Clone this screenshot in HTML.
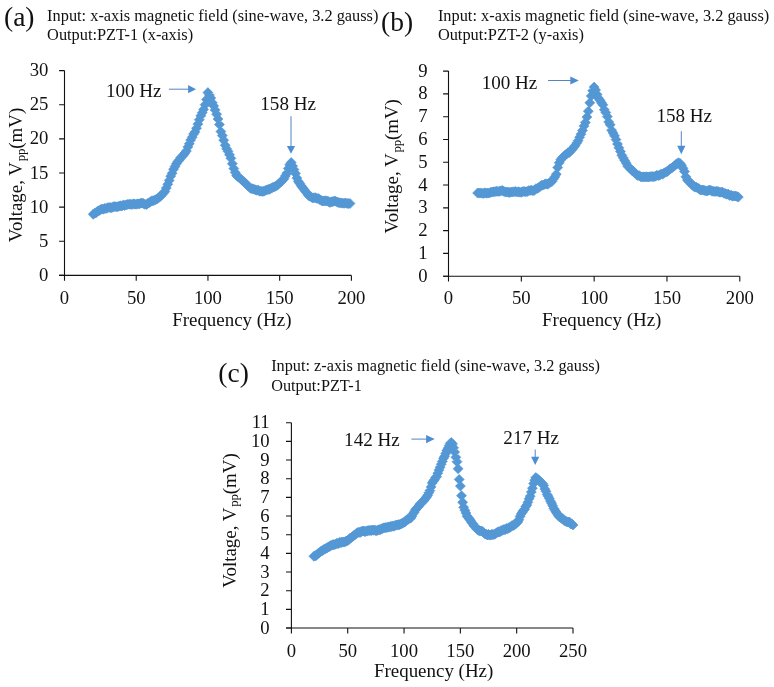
<!DOCTYPE html>
<html><head><meta charset="utf-8"><style>
html,body{margin:0;padding:0;background:#fff;}
svg{display:block;will-change:transform;}
text{font-family:'Liberation Serif', serif;fill:#111;}
*{-webkit-font-smoothing:antialiased;}
</style></head><body>
<svg width="774" height="687" viewBox="0 0 774 687">
<path d="M64.5 70.6V275.4M59.1 275.4H351.4" stroke="#111" stroke-width="1.1" fill="none"/>
<path d="M59.1 275.4H64.5M59.1 241.27H64.5M59.1 207.13H64.5M59.1 173H64.5M59.1 138.87H64.5M59.1 104.73H64.5M59.1 70.6H64.5M64.5 275.4v5.4M136.22 275.4v5.4M207.95 275.4v5.4M279.67 275.4v5.4M351.4 275.4v5.4" stroke="#111" stroke-width="1.1" fill="none"/>
<text x="48.4" y="281" text-anchor="end" font-size="18.7">0</text>
<text x="48.4" y="246.87" text-anchor="end" font-size="18.7">5</text>
<text x="48.4" y="212.73" text-anchor="end" font-size="18.7">10</text>
<text x="48.4" y="178.6" text-anchor="end" font-size="18.7">15</text>
<text x="48.4" y="144.47" text-anchor="end" font-size="18.7">20</text>
<text x="48.4" y="110.33" text-anchor="end" font-size="18.7">25</text>
<text x="48.4" y="76.2" text-anchor="end" font-size="18.7">30</text>
<text x="64.5" y="303.8" text-anchor="middle" font-size="18.7">0</text>
<text x="136.22" y="303.8" text-anchor="middle" font-size="18.7">50</text>
<text x="207.95" y="303.8" text-anchor="middle" font-size="18.7">100</text>
<text x="279.67" y="303.8" text-anchor="middle" font-size="18.7">150</text>
<text x="351.4" y="303.8" text-anchor="middle" font-size="18.7">200</text>
<text transform="translate(22 242.3) rotate(-90)" font-size="18.95">Voltage, V<tspan font-size="12.8" dx="0.7" dy="2.6">pp</tspan><tspan dx="-0.3" dy="-2.6">(mV)</tspan></text>
<text x="172.15" y="325.8" font-size="18.95">Frequency (Hz)</text>
<path d="M93.2 209.3l5.0 5.0l-5.0 5.0l-5.0-5.0zM94.6 208.2l5.0 5.0l-5.0 5.0l-5.0-5.0zM96.1 207.8l5.0 5.0l-5.0 5.0l-5.0-5.0zM97.5 206.3l5.0 5.0l-5.0 5.0l-5.0-5.0zM98.9 205.8l5.0 5.0l-5.0 5.0l-5.0-5.0zM100.4 204.7l5.0 5.0l-5.0 5.0l-5.0-5.0zM101.8 204.1l5.0 5.0l-5.0 5.0l-5.0-5.0zM103.2 204.2l5.0 5.0l-5.0 5.0l-5.0-5.0zM104.7 203.4l5.0 5.0l-5.0 5.0l-5.0-5.0zM106.1 203.5l5.0 5.0l-5.0 5.0l-5.0-5.0zM107.5 202.8l5.0 5.0l-5.0 5.0l-5.0-5.0zM109.0 202.5l5.0 5.0l-5.0 5.0l-5.0-5.0zM110.4 202.6l5.0 5.0l-5.0 5.0l-5.0-5.0zM111.8 202.7l5.0 5.0l-5.0 5.0l-5.0-5.0zM113.3 201.7l5.0 5.0l-5.0 5.0l-5.0-5.0zM114.7 201.6l5.0 5.0l-5.0 5.0l-5.0-5.0zM116.1 201.7l5.0 5.0l-5.0 5.0l-5.0-5.0zM117.6 201.8l5.0 5.0l-5.0 5.0l-5.0-5.0zM119.0 201.2l5.0 5.0l-5.0 5.0l-5.0-5.0zM120.4 200.7l5.0 5.0l-5.0 5.0l-5.0-5.0zM121.9 201.1l5.0 5.0l-5.0 5.0l-5.0-5.0zM123.3 199.9l5.0 5.0l-5.0 5.0l-5.0-5.0zM124.7 200.5l5.0 5.0l-5.0 5.0l-5.0-5.0zM126.2 199.8l5.0 5.0l-5.0 5.0l-5.0-5.0zM127.6 199.4l5.0 5.0l-5.0 5.0l-5.0-5.0zM129.1 199.2l5.0 5.0l-5.0 5.0l-5.0-5.0zM130.5 199.2l5.0 5.0l-5.0 5.0l-5.0-5.0zM131.9 199.6l5.0 5.0l-5.0 5.0l-5.0-5.0zM133.4 198.8l5.0 5.0l-5.0 5.0l-5.0-5.0zM134.8 199.2l5.0 5.0l-5.0 5.0l-5.0-5.0zM136.2 199.2l5.0 5.0l-5.0 5.0l-5.0-5.0zM137.7 198.8l5.0 5.0l-5.0 5.0l-5.0-5.0zM139.1 198.9l5.0 5.0l-5.0 5.0l-5.0-5.0zM140.5 198.3l5.0 5.0l-5.0 5.0l-5.0-5.0zM142.0 198.1l5.0 5.0l-5.0 5.0l-5.0-5.0zM143.4 198.5l5.0 5.0l-5.0 5.0l-5.0-5.0zM144.8 199.3l5.0 5.0l-5.0 5.0l-5.0-5.0zM146.3 199.6l5.0 5.0l-5.0 5.0l-5.0-5.0zM147.7 198.5l5.0 5.0l-5.0 5.0l-5.0-5.0zM149.1 197.8l5.0 5.0l-5.0 5.0l-5.0-5.0zM150.6 196.7l5.0 5.0l-5.0 5.0l-5.0-5.0zM152.0 195.7l5.0 5.0l-5.0 5.0l-5.0-5.0zM153.4 195.7l5.0 5.0l-5.0 5.0l-5.0-5.0zM154.9 195.1l5.0 5.0l-5.0 5.0l-5.0-5.0zM156.3 194.2l5.0 5.0l-5.0 5.0l-5.0-5.0zM157.7 193.6l5.0 5.0l-5.0 5.0l-5.0-5.0zM159.2 192.2l5.0 5.0l-5.0 5.0l-5.0-5.0zM160.6 191.2l5.0 5.0l-5.0 5.0l-5.0-5.0zM162.0 189.7l5.0 5.0l-5.0 5.0l-5.0-5.0zM163.5 187.9l5.0 5.0l-5.0 5.0l-5.0-5.0zM164.9 186.5l5.0 5.0l-5.0 5.0l-5.0-5.0zM166.3 183.0l5.0 5.0l-5.0 5.0l-5.0-5.0zM167.8 179.3l5.0 5.0l-5.0 5.0l-5.0-5.0zM169.2 175.4l5.0 5.0l-5.0 5.0l-5.0-5.0zM170.7 171.2l5.0 5.0l-5.0 5.0l-5.0-5.0zM172.1 168.3l5.0 5.0l-5.0 5.0l-5.0-5.0zM173.5 164.2l5.0 5.0l-5.0 5.0l-5.0-5.0zM175.0 161.6l5.0 5.0l-5.0 5.0l-5.0-5.0zM176.4 158.8l5.0 5.0l-5.0 5.0l-5.0-5.0zM177.8 156.6l5.0 5.0l-5.0 5.0l-5.0-5.0zM179.3 154.9l5.0 5.0l-5.0 5.0l-5.0-5.0zM180.7 152.7l5.0 5.0l-5.0 5.0l-5.0-5.0zM182.1 151.5l5.0 5.0l-5.0 5.0l-5.0-5.0zM183.6 149.8l5.0 5.0l-5.0 5.0l-5.0-5.0zM185.0 148.0l5.0 5.0l-5.0 5.0l-5.0-5.0zM186.4 146.0l5.0 5.0l-5.0 5.0l-5.0-5.0zM187.9 141.9l5.0 5.0l-5.0 5.0l-5.0-5.0zM189.3 138.7l5.0 5.0l-5.0 5.0l-5.0-5.0zM190.7 135.1l5.0 5.0l-5.0 5.0l-5.0-5.0zM192.2 132.3l5.0 5.0l-5.0 5.0l-5.0-5.0zM193.6 129.1l5.0 5.0l-5.0 5.0l-5.0-5.0zM195.0 127.1l5.0 5.0l-5.0 5.0l-5.0-5.0zM196.5 123.2l5.0 5.0l-5.0 5.0l-5.0-5.0zM197.9 119.1l5.0 5.0l-5.0 5.0l-5.0-5.0zM199.3 114.7l5.0 5.0l-5.0 5.0l-5.0-5.0zM200.8 110.8l5.0 5.0l-5.0 5.0l-5.0-5.0zM202.2 107.7l5.0 5.0l-5.0 5.0l-5.0-5.0zM203.6 104.5l5.0 5.0l-5.0 5.0l-5.0-5.0zM205.1 99.7l5.0 5.0l-5.0 5.0l-5.0-5.0zM206.5 94.6l5.0 5.0l-5.0 5.0l-5.0-5.0zM207.9 87.6l5.0 5.0l-5.0 5.0l-5.0-5.0zM209.4 90.0l5.0 5.0l-5.0 5.0l-5.0-5.0zM210.8 93.1l5.0 5.0l-5.0 5.0l-5.0-5.0zM212.3 97.7l5.0 5.0l-5.0 5.0l-5.0-5.0zM213.7 100.9l5.0 5.0l-5.0 5.0l-5.0-5.0zM215.1 104.9l5.0 5.0l-5.0 5.0l-5.0-5.0zM216.6 109.2l5.0 5.0l-5.0 5.0l-5.0-5.0zM218.0 114.0l5.0 5.0l-5.0 5.0l-5.0-5.0zM219.4 119.6l5.0 5.0l-5.0 5.0l-5.0-5.0zM220.9 126.6l5.0 5.0l-5.0 5.0l-5.0-5.0zM222.3 130.6l5.0 5.0l-5.0 5.0l-5.0-5.0zM223.7 135.2l5.0 5.0l-5.0 5.0l-5.0-5.0zM225.2 140.3l5.0 5.0l-5.0 5.0l-5.0-5.0zM226.6 143.8l5.0 5.0l-5.0 5.0l-5.0-5.0zM228.0 146.3l5.0 5.0l-5.0 5.0l-5.0-5.0zM229.5 149.7l5.0 5.0l-5.0 5.0l-5.0-5.0zM230.9 153.3l5.0 5.0l-5.0 5.0l-5.0-5.0zM232.3 158.7l5.0 5.0l-5.0 5.0l-5.0-5.0zM233.8 163.5l5.0 5.0l-5.0 5.0l-5.0-5.0zM235.2 167.4l5.0 5.0l-5.0 5.0l-5.0-5.0zM236.6 170.7l5.0 5.0l-5.0 5.0l-5.0-5.0zM238.1 171.8l5.0 5.0l-5.0 5.0l-5.0-5.0zM239.5 172.8l5.0 5.0l-5.0 5.0l-5.0-5.0zM240.9 174.1l5.0 5.0l-5.0 5.0l-5.0-5.0zM242.4 175.6l5.0 5.0l-5.0 5.0l-5.0-5.0zM243.8 176.7l5.0 5.0l-5.0 5.0l-5.0-5.0zM245.2 177.9l5.0 5.0l-5.0 5.0l-5.0-5.0zM246.7 179.7l5.0 5.0l-5.0 5.0l-5.0-5.0zM248.1 180.9l5.0 5.0l-5.0 5.0l-5.0-5.0zM249.6 182.4l5.0 5.0l-5.0 5.0l-5.0-5.0zM251.0 183.5l5.0 5.0l-5.0 5.0l-5.0-5.0zM252.4 183.8l5.0 5.0l-5.0 5.0l-5.0-5.0zM253.9 184.2l5.0 5.0l-5.0 5.0l-5.0-5.0zM255.3 184.8l5.0 5.0l-5.0 5.0l-5.0-5.0zM256.7 185.3l5.0 5.0l-5.0 5.0l-5.0-5.0zM258.2 185.1l5.0 5.0l-5.0 5.0l-5.0-5.0zM259.6 186.2l5.0 5.0l-5.0 5.0l-5.0-5.0zM261.0 186.2l5.0 5.0l-5.0 5.0l-5.0-5.0zM262.5 186.4l5.0 5.0l-5.0 5.0l-5.0-5.0zM263.9 186.2l5.0 5.0l-5.0 5.0l-5.0-5.0zM265.3 185.4l5.0 5.0l-5.0 5.0l-5.0-5.0zM266.8 185.0l5.0 5.0l-5.0 5.0l-5.0-5.0zM268.2 184.3l5.0 5.0l-5.0 5.0l-5.0-5.0zM269.6 184.3l5.0 5.0l-5.0 5.0l-5.0-5.0zM271.1 183.2l5.0 5.0l-5.0 5.0l-5.0-5.0zM272.5 182.6l5.0 5.0l-5.0 5.0l-5.0-5.0zM273.9 182.1l5.0 5.0l-5.0 5.0l-5.0-5.0zM275.4 181.3l5.0 5.0l-5.0 5.0l-5.0-5.0zM276.8 180.6l5.0 5.0l-5.0 5.0l-5.0-5.0zM278.2 179.4l5.0 5.0l-5.0 5.0l-5.0-5.0zM279.7 178.0l5.0 5.0l-5.0 5.0l-5.0-5.0zM281.1 176.8l5.0 5.0l-5.0 5.0l-5.0-5.0zM282.5 175.2l5.0 5.0l-5.0 5.0l-5.0-5.0zM284.0 173.7l5.0 5.0l-5.0 5.0l-5.0-5.0zM285.4 170.9l5.0 5.0l-5.0 5.0l-5.0-5.0zM286.8 168.2l5.0 5.0l-5.0 5.0l-5.0-5.0zM288.3 163.5l5.0 5.0l-5.0 5.0l-5.0-5.0zM289.7 159.8l5.0 5.0l-5.0 5.0l-5.0-5.0zM291.2 157.5l5.0 5.0l-5.0 5.0l-5.0-5.0zM292.6 161.1l5.0 5.0l-5.0 5.0l-5.0-5.0zM294.0 164.6l5.0 5.0l-5.0 5.0l-5.0-5.0zM295.5 168.4l5.0 5.0l-5.0 5.0l-5.0-5.0zM296.9 173.1l5.0 5.0l-5.0 5.0l-5.0-5.0zM298.3 176.4l5.0 5.0l-5.0 5.0l-5.0-5.0zM299.8 178.4l5.0 5.0l-5.0 5.0l-5.0-5.0zM301.2 180.8l5.0 5.0l-5.0 5.0l-5.0-5.0zM302.6 182.6l5.0 5.0l-5.0 5.0l-5.0-5.0zM304.1 184.6l5.0 5.0l-5.0 5.0l-5.0-5.0zM305.5 186.5l5.0 5.0l-5.0 5.0l-5.0-5.0zM306.9 188.1l5.0 5.0l-5.0 5.0l-5.0-5.0zM308.4 190.4l5.0 5.0l-5.0 5.0l-5.0-5.0zM309.8 191.1l5.0 5.0l-5.0 5.0l-5.0-5.0zM311.2 191.9l5.0 5.0l-5.0 5.0l-5.0-5.0zM312.7 193.1l5.0 5.0l-5.0 5.0l-5.0-5.0zM314.1 192.7l5.0 5.0l-5.0 5.0l-5.0-5.0zM315.5 192.7l5.0 5.0l-5.0 5.0l-5.0-5.0zM317.0 193.5l5.0 5.0l-5.0 5.0l-5.0-5.0zM318.4 193.6l5.0 5.0l-5.0 5.0l-5.0-5.0zM319.8 194.6l5.0 5.0l-5.0 5.0l-5.0-5.0zM321.3 195.6l5.0 5.0l-5.0 5.0l-5.0-5.0zM322.7 195.9l5.0 5.0l-5.0 5.0l-5.0-5.0zM324.1 196.0l5.0 5.0l-5.0 5.0l-5.0-5.0zM325.6 195.7l5.0 5.0l-5.0 5.0l-5.0-5.0zM327.0 196.1l5.0 5.0l-5.0 5.0l-5.0-5.0zM328.4 196.5l5.0 5.0l-5.0 5.0l-5.0-5.0zM329.9 197.4l5.0 5.0l-5.0 5.0l-5.0-5.0zM331.3 196.8l5.0 5.0l-5.0 5.0l-5.0-5.0zM332.8 196.7l5.0 5.0l-5.0 5.0l-5.0-5.0zM334.2 196.0l5.0 5.0l-5.0 5.0l-5.0-5.0zM335.6 196.2l5.0 5.0l-5.0 5.0l-5.0-5.0zM337.1 197.1l5.0 5.0l-5.0 5.0l-5.0-5.0zM338.5 197.6l5.0 5.0l-5.0 5.0l-5.0-5.0zM339.9 197.8l5.0 5.0l-5.0 5.0l-5.0-5.0zM341.4 197.9l5.0 5.0l-5.0 5.0l-5.0-5.0zM342.8 198.2l5.0 5.0l-5.0 5.0l-5.0-5.0zM344.2 198.3l5.0 5.0l-5.0 5.0l-5.0-5.0zM345.7 198.0l5.0 5.0l-5.0 5.0l-5.0-5.0zM347.1 198.5l5.0 5.0l-5.0 5.0l-5.0-5.0zM348.5 198.6l5.0 5.0l-5.0 5.0l-5.0-5.0zM350.0 198.5l5.0 5.0l-5.0 5.0l-5.0-5.0z" fill="#5497d5" stroke="#5497d5" stroke-width="0.6"/>
<path d="M448.5 71.1V276.2M443.1 276.2H739.8" stroke="#111" stroke-width="1.1" fill="none"/>
<path d="M443.1 276.2H448.5M443.1 253.41H448.5M443.1 230.62H448.5M443.1 207.83H448.5M443.1 185.04H448.5M443.1 162.26H448.5M443.1 139.47H448.5M443.1 116.68H448.5M443.1 93.89H448.5M443.1 71.1H448.5M448.5 276.2v5.4M521.33 276.2v5.4M594.15 276.2v5.4M666.97 276.2v5.4M739.8 276.2v5.4" stroke="#111" stroke-width="1.1" fill="none"/>
<text x="427.6" y="281.8" text-anchor="end" font-size="18.7">0</text>
<text x="427.6" y="259.01" text-anchor="end" font-size="18.7">1</text>
<text x="427.6" y="236.22" text-anchor="end" font-size="18.7">2</text>
<text x="427.6" y="213.43" text-anchor="end" font-size="18.7">3</text>
<text x="427.6" y="190.64" text-anchor="end" font-size="18.7">4</text>
<text x="427.6" y="167.86" text-anchor="end" font-size="18.7">5</text>
<text x="427.6" y="145.07" text-anchor="end" font-size="18.7">6</text>
<text x="427.6" y="122.28" text-anchor="end" font-size="18.7">7</text>
<text x="427.6" y="99.49" text-anchor="end" font-size="18.7">8</text>
<text x="427.6" y="76.7" text-anchor="end" font-size="18.7">9</text>
<text x="448.5" y="304.3" text-anchor="middle" font-size="18.7">0</text>
<text x="521.33" y="304.3" text-anchor="middle" font-size="18.7">50</text>
<text x="594.15" y="304.3" text-anchor="middle" font-size="18.7">100</text>
<text x="666.97" y="304.3" text-anchor="middle" font-size="18.7">150</text>
<text x="739.8" y="304.3" text-anchor="middle" font-size="18.7">200</text>
<text transform="translate(398.4 233.6) rotate(-90)" font-size="18.95">Voltage, V<tspan font-size="12.8" dx="0.7" dy="2.6">pp</tspan><tspan dx="-0.3" dy="-2.6">(mV)</tspan></text>
<text x="542.05" y="325.7" font-size="18.95">Frequency (Hz)</text>
<path d="M477.6 188.0l5.0 5.0l-5.0 5.0l-5.0-5.0zM479.1 188.1l5.0 5.0l-5.0 5.0l-5.0-5.0zM480.5 187.9l5.0 5.0l-5.0 5.0l-5.0-5.0zM482.0 188.2l5.0 5.0l-5.0 5.0l-5.0-5.0zM483.5 188.4l5.0 5.0l-5.0 5.0l-5.0-5.0zM484.9 187.8l5.0 5.0l-5.0 5.0l-5.0-5.0zM486.4 188.2l5.0 5.0l-5.0 5.0l-5.0-5.0zM487.8 188.1l5.0 5.0l-5.0 5.0l-5.0-5.0zM489.3 188.0l5.0 5.0l-5.0 5.0l-5.0-5.0zM490.7 187.3l5.0 5.0l-5.0 5.0l-5.0-5.0zM492.2 187.0l5.0 5.0l-5.0 5.0l-5.0-5.0zM493.7 186.8l5.0 5.0l-5.0 5.0l-5.0-5.0zM495.1 186.6l5.0 5.0l-5.0 5.0l-5.0-5.0zM496.6 186.3l5.0 5.0l-5.0 5.0l-5.0-5.0zM498.0 186.4l5.0 5.0l-5.0 5.0l-5.0-5.0zM499.5 186.3l5.0 5.0l-5.0 5.0l-5.0-5.0zM500.9 185.8l5.0 5.0l-5.0 5.0l-5.0-5.0zM502.4 185.5l5.0 5.0l-5.0 5.0l-5.0-5.0zM503.8 186.3l5.0 5.0l-5.0 5.0l-5.0-5.0zM505.3 187.1l5.0 5.0l-5.0 5.0l-5.0-5.0zM506.8 186.9l5.0 5.0l-5.0 5.0l-5.0-5.0zM508.2 187.3l5.0 5.0l-5.0 5.0l-5.0-5.0zM509.7 187.4l5.0 5.0l-5.0 5.0l-5.0-5.0zM511.1 187.1l5.0 5.0l-5.0 5.0l-5.0-5.0zM512.6 186.9l5.0 5.0l-5.0 5.0l-5.0-5.0zM514.0 186.7l5.0 5.0l-5.0 5.0l-5.0-5.0zM515.5 186.4l5.0 5.0l-5.0 5.0l-5.0-5.0zM517.0 187.1l5.0 5.0l-5.0 5.0l-5.0-5.0zM518.4 186.7l5.0 5.0l-5.0 5.0l-5.0-5.0zM519.9 187.2l5.0 5.0l-5.0 5.0l-5.0-5.0zM521.3 187.3l5.0 5.0l-5.0 5.0l-5.0-5.0zM522.8 186.6l5.0 5.0l-5.0 5.0l-5.0-5.0zM524.2 186.4l5.0 5.0l-5.0 5.0l-5.0-5.0zM525.7 186.8l5.0 5.0l-5.0 5.0l-5.0-5.0zM527.2 186.5l5.0 5.0l-5.0 5.0l-5.0-5.0zM528.6 185.7l5.0 5.0l-5.0 5.0l-5.0-5.0zM530.1 185.4l5.0 5.0l-5.0 5.0l-5.0-5.0zM531.5 185.2l5.0 5.0l-5.0 5.0l-5.0-5.0zM533.0 185.7l5.0 5.0l-5.0 5.0l-5.0-5.0zM534.4 185.3l5.0 5.0l-5.0 5.0l-5.0-5.0zM535.9 183.7l5.0 5.0l-5.0 5.0l-5.0-5.0zM537.3 183.4l5.0 5.0l-5.0 5.0l-5.0-5.0zM538.8 182.6l5.0 5.0l-5.0 5.0l-5.0-5.0zM540.3 181.3l5.0 5.0l-5.0 5.0l-5.0-5.0zM541.7 180.2l5.0 5.0l-5.0 5.0l-5.0-5.0zM543.2 180.1l5.0 5.0l-5.0 5.0l-5.0-5.0zM544.6 179.3l5.0 5.0l-5.0 5.0l-5.0-5.0zM546.1 178.8l5.0 5.0l-5.0 5.0l-5.0-5.0zM547.5 179.3l5.0 5.0l-5.0 5.0l-5.0-5.0zM549.0 178.3l5.0 5.0l-5.0 5.0l-5.0-5.0zM550.5 177.1l5.0 5.0l-5.0 5.0l-5.0-5.0zM551.9 176.5l5.0 5.0l-5.0 5.0l-5.0-5.0zM553.4 174.1l5.0 5.0l-5.0 5.0l-5.0-5.0zM554.8 171.9l5.0 5.0l-5.0 5.0l-5.0-5.0zM556.3 169.2l5.0 5.0l-5.0 5.0l-5.0-5.0zM557.7 162.5l5.0 5.0l-5.0 5.0l-5.0-5.0zM559.2 157.8l5.0 5.0l-5.0 5.0l-5.0-5.0zM560.7 154.8l5.0 5.0l-5.0 5.0l-5.0-5.0zM562.1 152.9l5.0 5.0l-5.0 5.0l-5.0-5.0zM563.6 151.8l5.0 5.0l-5.0 5.0l-5.0-5.0zM565.0 150.2l5.0 5.0l-5.0 5.0l-5.0-5.0zM566.5 149.1l5.0 5.0l-5.0 5.0l-5.0-5.0zM567.9 147.7l5.0 5.0l-5.0 5.0l-5.0-5.0zM569.4 147.4l5.0 5.0l-5.0 5.0l-5.0-5.0zM570.8 145.7l5.0 5.0l-5.0 5.0l-5.0-5.0zM572.3 144.3l5.0 5.0l-5.0 5.0l-5.0-5.0zM573.8 142.3l5.0 5.0l-5.0 5.0l-5.0-5.0zM575.2 140.6l5.0 5.0l-5.0 5.0l-5.0-5.0zM576.7 138.0l5.0 5.0l-5.0 5.0l-5.0-5.0zM578.1 135.7l5.0 5.0l-5.0 5.0l-5.0-5.0zM579.6 132.3l5.0 5.0l-5.0 5.0l-5.0-5.0zM581.0 129.2l5.0 5.0l-5.0 5.0l-5.0-5.0zM582.5 125.5l5.0 5.0l-5.0 5.0l-5.0-5.0zM584.0 121.1l5.0 5.0l-5.0 5.0l-5.0-5.0zM585.4 117.4l5.0 5.0l-5.0 5.0l-5.0-5.0zM586.9 112.1l5.0 5.0l-5.0 5.0l-5.0-5.0zM588.3 106.2l5.0 5.0l-5.0 5.0l-5.0-5.0zM589.8 97.8l5.0 5.0l-5.0 5.0l-5.0-5.0zM591.2 90.9l5.0 5.0l-5.0 5.0l-5.0-5.0zM592.7 85.7l5.0 5.0l-5.0 5.0l-5.0-5.0zM594.1 82.1l5.0 5.0l-5.0 5.0l-5.0-5.0zM595.6 85.0l5.0 5.0l-5.0 5.0l-5.0-5.0zM597.1 89.5l5.0 5.0l-5.0 5.0l-5.0-5.0zM598.5 93.2l5.0 5.0l-5.0 5.0l-5.0-5.0zM600.0 95.3l5.0 5.0l-5.0 5.0l-5.0-5.0zM601.4 97.7l5.0 5.0l-5.0 5.0l-5.0-5.0zM602.9 99.8l5.0 5.0l-5.0 5.0l-5.0-5.0zM604.3 104.7l5.0 5.0l-5.0 5.0l-5.0-5.0zM605.8 107.6l5.0 5.0l-5.0 5.0l-5.0-5.0zM607.3 111.6l5.0 5.0l-5.0 5.0l-5.0-5.0zM608.7 116.9l5.0 5.0l-5.0 5.0l-5.0-5.0zM610.2 119.8l5.0 5.0l-5.0 5.0l-5.0-5.0zM611.6 125.2l5.0 5.0l-5.0 5.0l-5.0-5.0zM613.1 128.0l5.0 5.0l-5.0 5.0l-5.0-5.0zM614.5 130.8l5.0 5.0l-5.0 5.0l-5.0-5.0zM616.0 134.6l5.0 5.0l-5.0 5.0l-5.0-5.0zM617.5 139.0l5.0 5.0l-5.0 5.0l-5.0-5.0zM618.9 142.8l5.0 5.0l-5.0 5.0l-5.0-5.0zM620.4 146.5l5.0 5.0l-5.0 5.0l-5.0-5.0zM621.8 150.3l5.0 5.0l-5.0 5.0l-5.0-5.0zM623.3 152.9l5.0 5.0l-5.0 5.0l-5.0-5.0zM624.7 155.5l5.0 5.0l-5.0 5.0l-5.0-5.0zM626.2 158.1l5.0 5.0l-5.0 5.0l-5.0-5.0zM627.6 161.1l5.0 5.0l-5.0 5.0l-5.0-5.0zM629.1 162.4l5.0 5.0l-5.0 5.0l-5.0-5.0zM630.6 164.0l5.0 5.0l-5.0 5.0l-5.0-5.0zM632.0 165.5l5.0 5.0l-5.0 5.0l-5.0-5.0zM633.5 166.3l5.0 5.0l-5.0 5.0l-5.0-5.0zM634.9 168.0l5.0 5.0l-5.0 5.0l-5.0-5.0zM636.4 169.6l5.0 5.0l-5.0 5.0l-5.0-5.0zM637.8 170.5l5.0 5.0l-5.0 5.0l-5.0-5.0zM639.3 170.7l5.0 5.0l-5.0 5.0l-5.0-5.0zM640.8 171.7l5.0 5.0l-5.0 5.0l-5.0-5.0zM642.2 172.1l5.0 5.0l-5.0 5.0l-5.0-5.0zM643.7 171.8l5.0 5.0l-5.0 5.0l-5.0-5.0zM645.1 172.0l5.0 5.0l-5.0 5.0l-5.0-5.0zM646.6 171.7l5.0 5.0l-5.0 5.0l-5.0-5.0zM648.0 172.0l5.0 5.0l-5.0 5.0l-5.0-5.0zM649.5 171.8l5.0 5.0l-5.0 5.0l-5.0-5.0zM651.0 171.6l5.0 5.0l-5.0 5.0l-5.0-5.0zM652.4 171.5l5.0 5.0l-5.0 5.0l-5.0-5.0zM653.9 171.7l5.0 5.0l-5.0 5.0l-5.0-5.0zM655.3 171.2l5.0 5.0l-5.0 5.0l-5.0-5.0zM656.8 170.3l5.0 5.0l-5.0 5.0l-5.0-5.0zM658.2 170.6l5.0 5.0l-5.0 5.0l-5.0-5.0zM659.7 170.2l5.0 5.0l-5.0 5.0l-5.0-5.0zM661.1 169.0l5.0 5.0l-5.0 5.0l-5.0-5.0zM662.6 169.2l5.0 5.0l-5.0 5.0l-5.0-5.0zM664.1 168.0l5.0 5.0l-5.0 5.0l-5.0-5.0zM665.5 167.2l5.0 5.0l-5.0 5.0l-5.0-5.0zM667.0 166.7l5.0 5.0l-5.0 5.0l-5.0-5.0zM668.4 165.6l5.0 5.0l-5.0 5.0l-5.0-5.0zM669.9 163.9l5.0 5.0l-5.0 5.0l-5.0-5.0zM671.3 163.2l5.0 5.0l-5.0 5.0l-5.0-5.0zM672.8 162.3l5.0 5.0l-5.0 5.0l-5.0-5.0zM674.3 161.0l5.0 5.0l-5.0 5.0l-5.0-5.0zM675.7 159.6l5.0 5.0l-5.0 5.0l-5.0-5.0zM677.2 158.5l5.0 5.0l-5.0 5.0l-5.0-5.0zM678.6 157.7l5.0 5.0l-5.0 5.0l-5.0-5.0zM680.1 158.4l5.0 5.0l-5.0 5.0l-5.0-5.0zM681.5 160.3l5.0 5.0l-5.0 5.0l-5.0-5.0zM683.0 163.2l5.0 5.0l-5.0 5.0l-5.0-5.0zM684.5 166.4l5.0 5.0l-5.0 5.0l-5.0-5.0zM685.9 171.8l5.0 5.0l-5.0 5.0l-5.0-5.0zM687.4 175.1l5.0 5.0l-5.0 5.0l-5.0-5.0zM688.8 176.5l5.0 5.0l-5.0 5.0l-5.0-5.0zM690.3 177.5l5.0 5.0l-5.0 5.0l-5.0-5.0zM691.7 179.6l5.0 5.0l-5.0 5.0l-5.0-5.0zM693.2 180.7l5.0 5.0l-5.0 5.0l-5.0-5.0zM694.6 182.1l5.0 5.0l-5.0 5.0l-5.0-5.0zM696.1 182.1l5.0 5.0l-5.0 5.0l-5.0-5.0zM697.6 183.0l5.0 5.0l-5.0 5.0l-5.0-5.0zM699.0 183.7l5.0 5.0l-5.0 5.0l-5.0-5.0zM700.5 185.1l5.0 5.0l-5.0 5.0l-5.0-5.0zM701.9 185.0l5.0 5.0l-5.0 5.0l-5.0-5.0zM703.4 185.1l5.0 5.0l-5.0 5.0l-5.0-5.0zM704.8 185.5l5.0 5.0l-5.0 5.0l-5.0-5.0zM706.3 186.1l5.0 5.0l-5.0 5.0l-5.0-5.0zM707.8 185.8l5.0 5.0l-5.0 5.0l-5.0-5.0zM709.2 185.0l5.0 5.0l-5.0 5.0l-5.0-5.0zM710.7 185.2l5.0 5.0l-5.0 5.0l-5.0-5.0zM712.1 186.3l5.0 5.0l-5.0 5.0l-5.0-5.0zM713.6 186.2l5.0 5.0l-5.0 5.0l-5.0-5.0zM715.0 186.6l5.0 5.0l-5.0 5.0l-5.0-5.0zM716.5 186.3l5.0 5.0l-5.0 5.0l-5.0-5.0zM718.0 186.4l5.0 5.0l-5.0 5.0l-5.0-5.0zM719.4 187.2l5.0 5.0l-5.0 5.0l-5.0-5.0zM720.9 187.2l5.0 5.0l-5.0 5.0l-5.0-5.0zM722.3 187.0l5.0 5.0l-5.0 5.0l-5.0-5.0zM723.8 188.2l5.0 5.0l-5.0 5.0l-5.0-5.0zM725.2 188.5l5.0 5.0l-5.0 5.0l-5.0-5.0zM726.7 189.3l5.0 5.0l-5.0 5.0l-5.0-5.0zM728.1 189.1l5.0 5.0l-5.0 5.0l-5.0-5.0zM729.6 190.5l5.0 5.0l-5.0 5.0l-5.0-5.0zM731.1 190.2l5.0 5.0l-5.0 5.0l-5.0-5.0zM732.5 191.2l5.0 5.0l-5.0 5.0l-5.0-5.0zM734.0 190.9l5.0 5.0l-5.0 5.0l-5.0-5.0zM735.4 191.0l5.0 5.0l-5.0 5.0l-5.0-5.0zM736.9 191.4l5.0 5.0l-5.0 5.0l-5.0-5.0zM738.3 192.1l5.0 5.0l-5.0 5.0l-5.0-5.0z" fill="#5497d5" stroke="#5497d5" stroke-width="0.6"/>
<path d="M291.4 422.7V628.05M286 628.05H573" stroke="#111" stroke-width="1.1" fill="none"/>
<path d="M286 628.05H291.4M286 609.38H291.4M286 590.71H291.4M286 572.05H291.4M286 553.38H291.4M286 534.71H291.4M286 516.04H291.4M286 497.37H291.4M286 478.7H291.4M286 460.04H291.4M286 441.37H291.4M286 422.7H291.4M291.4 628.05v5.4M347.72 628.05v5.4M404.04 628.05v5.4M460.36 628.05v5.4M516.68 628.05v5.4M573 628.05v5.4" stroke="#111" stroke-width="1.1" fill="none"/>
<text x="269.7" y="633.65" text-anchor="end" font-size="18.7">0</text>
<text x="269.7" y="614.98" text-anchor="end" font-size="18.7">1</text>
<text x="269.7" y="596.31" text-anchor="end" font-size="18.7">2</text>
<text x="269.7" y="577.65" text-anchor="end" font-size="18.7">3</text>
<text x="269.7" y="558.98" text-anchor="end" font-size="18.7">4</text>
<text x="269.7" y="540.31" text-anchor="end" font-size="18.7">5</text>
<text x="269.7" y="521.64" text-anchor="end" font-size="18.7">6</text>
<text x="269.7" y="502.97" text-anchor="end" font-size="18.7">7</text>
<text x="269.7" y="484.3" text-anchor="end" font-size="18.7">8</text>
<text x="269.7" y="465.64" text-anchor="end" font-size="18.7">9</text>
<text x="269.7" y="446.97" text-anchor="end" font-size="18.7">10</text>
<text x="269.7" y="428.3" text-anchor="end" font-size="18.7">11</text>
<text x="291.4" y="657" text-anchor="middle" font-size="18.7">0</text>
<text x="347.72" y="657" text-anchor="middle" font-size="18.7">50</text>
<text x="404.04" y="657" text-anchor="middle" font-size="18.7">100</text>
<text x="460.36" y="657" text-anchor="middle" font-size="18.7">150</text>
<text x="516.68" y="657" text-anchor="middle" font-size="18.7">200</text>
<text x="573" y="657" text-anchor="middle" font-size="18.7">250</text>
<text transform="translate(235.6 587.8) rotate(-90)" font-size="18.95">Voltage, V<tspan font-size="12.8" dx="0.7" dy="2.6">pp</tspan><tspan dx="-0.3" dy="-2.6">(mV)</tspan></text>
<text x="373.95" y="677" font-size="18.95">Frequency (Hz)</text>
<path d="M313.9 551.3l5.0 5.0l-5.0 5.0l-5.0-5.0zM315.1 550.7l5.0 5.0l-5.0 5.0l-5.0-5.0zM316.2 550.4l5.0 5.0l-5.0 5.0l-5.0-5.0zM317.3 549.3l5.0 5.0l-5.0 5.0l-5.0-5.0zM318.4 548.3l5.0 5.0l-5.0 5.0l-5.0-5.0zM319.6 547.5l5.0 5.0l-5.0 5.0l-5.0-5.0zM320.7 546.6l5.0 5.0l-5.0 5.0l-5.0-5.0zM321.8 545.9l5.0 5.0l-5.0 5.0l-5.0-5.0zM322.9 545.2l5.0 5.0l-5.0 5.0l-5.0-5.0zM324.1 544.3l5.0 5.0l-5.0 5.0l-5.0-5.0zM325.2 544.1l5.0 5.0l-5.0 5.0l-5.0-5.0zM326.3 543.1l5.0 5.0l-5.0 5.0l-5.0-5.0zM327.4 542.7l5.0 5.0l-5.0 5.0l-5.0-5.0zM328.6 541.8l5.0 5.0l-5.0 5.0l-5.0-5.0zM329.7 541.4l5.0 5.0l-5.0 5.0l-5.0-5.0zM330.8 540.5l5.0 5.0l-5.0 5.0l-5.0-5.0zM332.0 540.2l5.0 5.0l-5.0 5.0l-5.0-5.0zM333.1 539.5l5.0 5.0l-5.0 5.0l-5.0-5.0zM334.2 539.8l5.0 5.0l-5.0 5.0l-5.0-5.0zM335.3 539.2l5.0 5.0l-5.0 5.0l-5.0-5.0zM336.5 538.5l5.0 5.0l-5.0 5.0l-5.0-5.0zM337.6 538.4l5.0 5.0l-5.0 5.0l-5.0-5.0zM338.7 538.4l5.0 5.0l-5.0 5.0l-5.0-5.0zM339.8 537.2l5.0 5.0l-5.0 5.0l-5.0-5.0zM341.0 537.7l5.0 5.0l-5.0 5.0l-5.0-5.0zM342.1 537.1l5.0 5.0l-5.0 5.0l-5.0-5.0zM343.2 537.0l5.0 5.0l-5.0 5.0l-5.0-5.0zM344.3 537.1l5.0 5.0l-5.0 5.0l-5.0-5.0zM345.5 536.4l5.0 5.0l-5.0 5.0l-5.0-5.0zM346.6 536.1l5.0 5.0l-5.0 5.0l-5.0-5.0zM347.7 535.4l5.0 5.0l-5.0 5.0l-5.0-5.0zM348.8 534.8l5.0 5.0l-5.0 5.0l-5.0-5.0zM350.0 533.2l5.0 5.0l-5.0 5.0l-5.0-5.0zM351.1 532.8l5.0 5.0l-5.0 5.0l-5.0-5.0zM352.2 531.9l5.0 5.0l-5.0 5.0l-5.0-5.0zM353.4 531.0l5.0 5.0l-5.0 5.0l-5.0-5.0zM354.5 530.0l5.0 5.0l-5.0 5.0l-5.0-5.0zM355.6 529.2l5.0 5.0l-5.0 5.0l-5.0-5.0zM356.7 528.2l5.0 5.0l-5.0 5.0l-5.0-5.0zM357.9 527.6l5.0 5.0l-5.0 5.0l-5.0-5.0zM359.0 527.2l5.0 5.0l-5.0 5.0l-5.0-5.0zM360.1 527.5l5.0 5.0l-5.0 5.0l-5.0-5.0zM361.2 526.6l5.0 5.0l-5.0 5.0l-5.0-5.0zM362.4 526.2l5.0 5.0l-5.0 5.0l-5.0-5.0zM363.5 525.9l5.0 5.0l-5.0 5.0l-5.0-5.0zM364.6 526.5l5.0 5.0l-5.0 5.0l-5.0-5.0zM365.7 526.4l5.0 5.0l-5.0 5.0l-5.0-5.0zM366.9 526.1l5.0 5.0l-5.0 5.0l-5.0-5.0zM368.0 525.6l5.0 5.0l-5.0 5.0l-5.0-5.0zM369.1 525.5l5.0 5.0l-5.0 5.0l-5.0-5.0zM370.2 525.4l5.0 5.0l-5.0 5.0l-5.0-5.0zM371.4 525.5l5.0 5.0l-5.0 5.0l-5.0-5.0zM372.5 525.1l5.0 5.0l-5.0 5.0l-5.0-5.0zM373.6 525.3l5.0 5.0l-5.0 5.0l-5.0-5.0zM374.8 525.1l5.0 5.0l-5.0 5.0l-5.0-5.0zM375.9 525.7l5.0 5.0l-5.0 5.0l-5.0-5.0zM377.0 525.6l5.0 5.0l-5.0 5.0l-5.0-5.0zM378.1 525.1l5.0 5.0l-5.0 5.0l-5.0-5.0zM379.3 524.5l5.0 5.0l-5.0 5.0l-5.0-5.0zM380.4 524.8l5.0 5.0l-5.0 5.0l-5.0-5.0zM381.5 523.8l5.0 5.0l-5.0 5.0l-5.0-5.0zM382.6 523.5l5.0 5.0l-5.0 5.0l-5.0-5.0zM383.8 522.8l5.0 5.0l-5.0 5.0l-5.0-5.0zM384.9 522.8l5.0 5.0l-5.0 5.0l-5.0-5.0zM386.0 522.6l5.0 5.0l-5.0 5.0l-5.0-5.0zM387.1 522.4l5.0 5.0l-5.0 5.0l-5.0-5.0zM388.3 521.9l5.0 5.0l-5.0 5.0l-5.0-5.0zM389.4 522.1l5.0 5.0l-5.0 5.0l-5.0-5.0zM390.5 521.4l5.0 5.0l-5.0 5.0l-5.0-5.0zM391.6 521.4l5.0 5.0l-5.0 5.0l-5.0-5.0zM392.8 521.1l5.0 5.0l-5.0 5.0l-5.0-5.0zM393.9 521.2l5.0 5.0l-5.0 5.0l-5.0-5.0zM395.0 520.5l5.0 5.0l-5.0 5.0l-5.0-5.0zM396.2 520.1l5.0 5.0l-5.0 5.0l-5.0-5.0zM397.3 520.1l5.0 5.0l-5.0 5.0l-5.0-5.0zM398.4 519.6l5.0 5.0l-5.0 5.0l-5.0-5.0zM399.5 519.7l5.0 5.0l-5.0 5.0l-5.0-5.0zM400.7 519.1l5.0 5.0l-5.0 5.0l-5.0-5.0zM401.8 518.6l5.0 5.0l-5.0 5.0l-5.0-5.0zM402.9 517.9l5.0 5.0l-5.0 5.0l-5.0-5.0zM404.0 517.3l5.0 5.0l-5.0 5.0l-5.0-5.0zM405.2 516.8l5.0 5.0l-5.0 5.0l-5.0-5.0zM406.3 515.3l5.0 5.0l-5.0 5.0l-5.0-5.0zM407.4 514.3l5.0 5.0l-5.0 5.0l-5.0-5.0zM408.5 514.3l5.0 5.0l-5.0 5.0l-5.0-5.0zM409.7 513.0l5.0 5.0l-5.0 5.0l-5.0-5.0zM410.8 513.1l5.0 5.0l-5.0 5.0l-5.0-5.0zM411.9 511.2l5.0 5.0l-5.0 5.0l-5.0-5.0zM413.1 508.6l5.0 5.0l-5.0 5.0l-5.0-5.0zM414.2 507.2l5.0 5.0l-5.0 5.0l-5.0-5.0zM415.3 505.1l5.0 5.0l-5.0 5.0l-5.0-5.0zM416.4 503.5l5.0 5.0l-5.0 5.0l-5.0-5.0zM417.6 502.5l5.0 5.0l-5.0 5.0l-5.0-5.0zM418.7 501.3l5.0 5.0l-5.0 5.0l-5.0-5.0zM419.8 499.3l5.0 5.0l-5.0 5.0l-5.0-5.0zM420.9 498.4l5.0 5.0l-5.0 5.0l-5.0-5.0zM422.1 497.1l5.0 5.0l-5.0 5.0l-5.0-5.0zM423.2 496.2l5.0 5.0l-5.0 5.0l-5.0-5.0zM424.3 494.9l5.0 5.0l-5.0 5.0l-5.0-5.0zM425.4 493.5l5.0 5.0l-5.0 5.0l-5.0-5.0zM426.6 491.9l5.0 5.0l-5.0 5.0l-5.0-5.0zM427.7 490.3l5.0 5.0l-5.0 5.0l-5.0-5.0zM428.8 487.8l5.0 5.0l-5.0 5.0l-5.0-5.0zM429.9 485.6l5.0 5.0l-5.0 5.0l-5.0-5.0zM431.1 481.9l5.0 5.0l-5.0 5.0l-5.0-5.0zM432.2 478.1l5.0 5.0l-5.0 5.0l-5.0-5.0zM433.3 476.2l5.0 5.0l-5.0 5.0l-5.0-5.0zM434.5 474.7l5.0 5.0l-5.0 5.0l-5.0-5.0zM435.6 472.6l5.0 5.0l-5.0 5.0l-5.0-5.0zM436.7 471.6l5.0 5.0l-5.0 5.0l-5.0-5.0zM437.8 468.2l5.0 5.0l-5.0 5.0l-5.0-5.0zM439.0 465.1l5.0 5.0l-5.0 5.0l-5.0-5.0zM440.1 462.2l5.0 5.0l-5.0 5.0l-5.0-5.0zM441.2 459.3l5.0 5.0l-5.0 5.0l-5.0-5.0zM442.3 456.4l5.0 5.0l-5.0 5.0l-5.0-5.0zM443.5 453.3l5.0 5.0l-5.0 5.0l-5.0-5.0zM444.6 451.3l5.0 5.0l-5.0 5.0l-5.0-5.0zM445.7 448.5l5.0 5.0l-5.0 5.0l-5.0-5.0zM446.8 445.6l5.0 5.0l-5.0 5.0l-5.0-5.0zM448.0 443.2l5.0 5.0l-5.0 5.0l-5.0-5.0zM449.1 440.8l5.0 5.0l-5.0 5.0l-5.0-5.0zM450.2 438.4l5.0 5.0l-5.0 5.0l-5.0-5.0zM451.3 437.5l5.0 5.0l-5.0 5.0l-5.0-5.0zM452.5 438.9l5.0 5.0l-5.0 5.0l-5.0-5.0zM453.6 442.8l5.0 5.0l-5.0 5.0l-5.0-5.0zM454.7 447.1l5.0 5.0l-5.0 5.0l-5.0-5.0zM455.9 452.3l5.0 5.0l-5.0 5.0l-5.0-5.0zM457.0 456.7l5.0 5.0l-5.0 5.0l-5.0-5.0zM458.1 463.8l5.0 5.0l-5.0 5.0l-5.0-5.0zM459.2 474.4l5.0 5.0l-5.0 5.0l-5.0-5.0zM460.4 481.1l5.0 5.0l-5.0 5.0l-5.0-5.0zM461.5 490.7l5.0 5.0l-5.0 5.0l-5.0-5.0zM462.6 497.3l5.0 5.0l-5.0 5.0l-5.0-5.0zM463.7 502.3l5.0 5.0l-5.0 5.0l-5.0-5.0zM464.9 505.3l5.0 5.0l-5.0 5.0l-5.0-5.0zM466.0 508.1l5.0 5.0l-5.0 5.0l-5.0-5.0zM467.1 511.1l5.0 5.0l-5.0 5.0l-5.0-5.0zM468.2 512.5l5.0 5.0l-5.0 5.0l-5.0-5.0zM469.4 513.9l5.0 5.0l-5.0 5.0l-5.0-5.0zM470.5 515.4l5.0 5.0l-5.0 5.0l-5.0-5.0zM471.6 517.4l5.0 5.0l-5.0 5.0l-5.0-5.0zM472.8 518.7l5.0 5.0l-5.0 5.0l-5.0-5.0zM473.9 520.7l5.0 5.0l-5.0 5.0l-5.0-5.0zM475.0 521.6l5.0 5.0l-5.0 5.0l-5.0-5.0zM476.1 523.0l5.0 5.0l-5.0 5.0l-5.0-5.0zM477.3 524.5l5.0 5.0l-5.0 5.0l-5.0-5.0zM478.4 525.3l5.0 5.0l-5.0 5.0l-5.0-5.0zM479.5 525.7l5.0 5.0l-5.0 5.0l-5.0-5.0zM480.6 526.1l5.0 5.0l-5.0 5.0l-5.0-5.0zM481.8 526.1l5.0 5.0l-5.0 5.0l-5.0-5.0zM482.9 526.9l5.0 5.0l-5.0 5.0l-5.0-5.0zM484.0 527.9l5.0 5.0l-5.0 5.0l-5.0-5.0zM485.1 529.0l5.0 5.0l-5.0 5.0l-5.0-5.0zM486.3 529.2l5.0 5.0l-5.0 5.0l-5.0-5.0zM487.4 530.0l5.0 5.0l-5.0 5.0l-5.0-5.0zM488.5 529.3l5.0 5.0l-5.0 5.0l-5.0-5.0zM489.6 530.1l5.0 5.0l-5.0 5.0l-5.0-5.0zM490.8 530.1l5.0 5.0l-5.0 5.0l-5.0-5.0zM491.9 529.2l5.0 5.0l-5.0 5.0l-5.0-5.0zM493.0 529.7l5.0 5.0l-5.0 5.0l-5.0-5.0zM494.2 529.3l5.0 5.0l-5.0 5.0l-5.0-5.0zM495.3 528.9l5.0 5.0l-5.0 5.0l-5.0-5.0zM496.4 527.9l5.0 5.0l-5.0 5.0l-5.0-5.0zM497.5 527.2l5.0 5.0l-5.0 5.0l-5.0-5.0zM498.7 526.7l5.0 5.0l-5.0 5.0l-5.0-5.0zM499.8 526.9l5.0 5.0l-5.0 5.0l-5.0-5.0zM500.9 525.7l5.0 5.0l-5.0 5.0l-5.0-5.0zM502.0 525.6l5.0 5.0l-5.0 5.0l-5.0-5.0zM503.2 524.7l5.0 5.0l-5.0 5.0l-5.0-5.0zM504.3 524.6l5.0 5.0l-5.0 5.0l-5.0-5.0zM505.4 524.6l5.0 5.0l-5.0 5.0l-5.0-5.0zM506.5 523.4l5.0 5.0l-5.0 5.0l-5.0-5.0zM507.7 523.7l5.0 5.0l-5.0 5.0l-5.0-5.0zM508.8 522.8l5.0 5.0l-5.0 5.0l-5.0-5.0zM509.9 522.4l5.0 5.0l-5.0 5.0l-5.0-5.0zM511.0 521.6l5.0 5.0l-5.0 5.0l-5.0-5.0zM512.2 520.4l5.0 5.0l-5.0 5.0l-5.0-5.0zM513.3 520.6l5.0 5.0l-5.0 5.0l-5.0-5.0zM514.4 519.8l5.0 5.0l-5.0 5.0l-5.0-5.0zM515.6 519.0l5.0 5.0l-5.0 5.0l-5.0-5.0zM516.7 517.8l5.0 5.0l-5.0 5.0l-5.0-5.0zM517.8 516.9l5.0 5.0l-5.0 5.0l-5.0-5.0zM518.9 514.7l5.0 5.0l-5.0 5.0l-5.0-5.0zM520.1 511.4l5.0 5.0l-5.0 5.0l-5.0-5.0zM521.2 508.9l5.0 5.0l-5.0 5.0l-5.0-5.0zM522.3 507.3l5.0 5.0l-5.0 5.0l-5.0-5.0zM523.4 505.5l5.0 5.0l-5.0 5.0l-5.0-5.0zM524.6 504.3l5.0 5.0l-5.0 5.0l-5.0-5.0zM525.7 501.7l5.0 5.0l-5.0 5.0l-5.0-5.0zM526.8 500.1l5.0 5.0l-5.0 5.0l-5.0-5.0zM527.9 497.3l5.0 5.0l-5.0 5.0l-5.0-5.0zM529.1 493.8l5.0 5.0l-5.0 5.0l-5.0-5.0zM530.2 491.2l5.0 5.0l-5.0 5.0l-5.0-5.0zM531.3 487.0l5.0 5.0l-5.0 5.0l-5.0-5.0zM532.4 483.2l5.0 5.0l-5.0 5.0l-5.0-5.0zM533.6 478.5l5.0 5.0l-5.0 5.0l-5.0-5.0zM534.7 475.2l5.0 5.0l-5.0 5.0l-5.0-5.0zM535.8 472.6l5.0 5.0l-5.0 5.0l-5.0-5.0zM537.0 473.7l5.0 5.0l-5.0 5.0l-5.0-5.0zM538.1 474.5l5.0 5.0l-5.0 5.0l-5.0-5.0zM539.2 475.4l5.0 5.0l-5.0 5.0l-5.0-5.0zM540.3 476.7l5.0 5.0l-5.0 5.0l-5.0-5.0zM541.5 477.8l5.0 5.0l-5.0 5.0l-5.0-5.0zM542.6 478.8l5.0 5.0l-5.0 5.0l-5.0-5.0zM543.7 480.4l5.0 5.0l-5.0 5.0l-5.0-5.0zM544.8 484.0l5.0 5.0l-5.0 5.0l-5.0-5.0zM546.0 486.3l5.0 5.0l-5.0 5.0l-5.0-5.0zM547.1 489.5l5.0 5.0l-5.0 5.0l-5.0-5.0zM548.2 491.2l5.0 5.0l-5.0 5.0l-5.0-5.0zM549.3 493.6l5.0 5.0l-5.0 5.0l-5.0-5.0zM550.5 496.2l5.0 5.0l-5.0 5.0l-5.0-5.0zM551.6 498.2l5.0 5.0l-5.0 5.0l-5.0-5.0zM552.7 500.7l5.0 5.0l-5.0 5.0l-5.0-5.0zM553.9 503.5l5.0 5.0l-5.0 5.0l-5.0-5.0zM555.0 505.4l5.0 5.0l-5.0 5.0l-5.0-5.0zM556.1 507.1l5.0 5.0l-5.0 5.0l-5.0-5.0zM557.2 508.7l5.0 5.0l-5.0 5.0l-5.0-5.0zM558.4 510.7l5.0 5.0l-5.0 5.0l-5.0-5.0zM559.5 511.9l5.0 5.0l-5.0 5.0l-5.0-5.0zM560.6 512.4l5.0 5.0l-5.0 5.0l-5.0-5.0zM561.7 513.5l5.0 5.0l-5.0 5.0l-5.0-5.0zM562.9 513.7l5.0 5.0l-5.0 5.0l-5.0-5.0zM564.0 515.3l5.0 5.0l-5.0 5.0l-5.0-5.0zM565.1 515.9l5.0 5.0l-5.0 5.0l-5.0-5.0zM566.2 516.6l5.0 5.0l-5.0 5.0l-5.0-5.0zM567.4 516.9l5.0 5.0l-5.0 5.0l-5.0-5.0zM568.5 517.0l5.0 5.0l-5.0 5.0l-5.0-5.0zM569.6 517.2l5.0 5.0l-5.0 5.0l-5.0-5.0zM570.7 518.9l5.0 5.0l-5.0 5.0l-5.0-5.0zM571.9 518.9l5.0 5.0l-5.0 5.0l-5.0-5.0zM573.0 520.0l5.0 5.0l-5.0 5.0l-5.0-5.0z" fill="#5497d5" stroke="#5497d5" stroke-width="0.6"/>
<path d="M168.9 89.2H189.1" stroke="#5384c4" stroke-width="1"/><path d="M188.1 85.10000000000001L196.0 89.2L188.1 93.3z" fill="#4c8dd3"/>
<path d="M291.0 116.2V147.1" stroke="#5384c4" stroke-width="1"/><path d="M286.9 146.1L291.0 153.7L295.1 146.1z" fill="#4c8dd3"/>
<path d="M548.1 80.5H571.3" stroke="#5384c4" stroke-width="1"/><path d="M570.3 76.4L578.8 80.5L570.3 84.6z" fill="#4c8dd3"/>
<path d="M681.3 131.2V146.7" stroke="#5384c4" stroke-width="1"/><path d="M677.1999999999999 145.7L681.3 154.29999999999998L685.4 145.7z" fill="#4c8dd3"/>
<path d="M411.4 439.1H427.1" stroke="#5384c4" stroke-width="1"/><path d="M426.1 435.0L434.7 439.1L426.1 443.20000000000005z" fill="#4c8dd3"/>
<path d="M535.2 449.5V457.7" stroke="#5384c4" stroke-width="1"/><path d="M531.1 456.7L535.2 465.0L539.3000000000001 456.7z" fill="#4c8dd3"/>
<text x="133.75" y="96.9" text-anchor="middle" font-size="19.1">100 Hz</text>
<text x="288.13" y="109.6" text-anchor="middle" font-size="19.1">158 Hz</text>
<text x="509.53" y="89.3" text-anchor="middle" font-size="19.1">100 Hz</text>
<text x="684.28" y="122.0" text-anchor="middle" font-size="19.1">158 Hz</text>
<text x="371.93" y="446.3" text-anchor="middle" font-size="19.1">142 Hz</text>
<text x="531.20" y="444.0" text-anchor="middle" font-size="19.1">217 Hz</text>
<text x="4.0" y="26.3" font-size="27.5">(a)</text>
<text x="47.1" y="20.8" font-size="16.35">Input: x-axis magnetic field (sine-wave, 3.2 gauss)</text>
<text x="47.1" y="40.3" font-size="16.35">Output:PZT-1 (x-axis)</text>
<text x="381.0" y="31.0" font-size="27.5">(b)</text>
<text x="437.9" y="20.7" font-size="16.35">Input: x-axis magnetic field (sine-wave, 3.2 gauss)</text>
<text x="437.9" y="40.2" font-size="16.35">Output:PZT-2 (y-axis)</text>
<text x="218.3" y="382.2" font-size="27.5">(c)</text>
<text x="271.2" y="371.2" font-size="16.28">Input: z-axis magnetic field (sine-wave, 3.2 gauss)</text>
<text x="271.2" y="390.8" font-size="16.28">Output:PZT-1</text>
</svg>
</body></html>
